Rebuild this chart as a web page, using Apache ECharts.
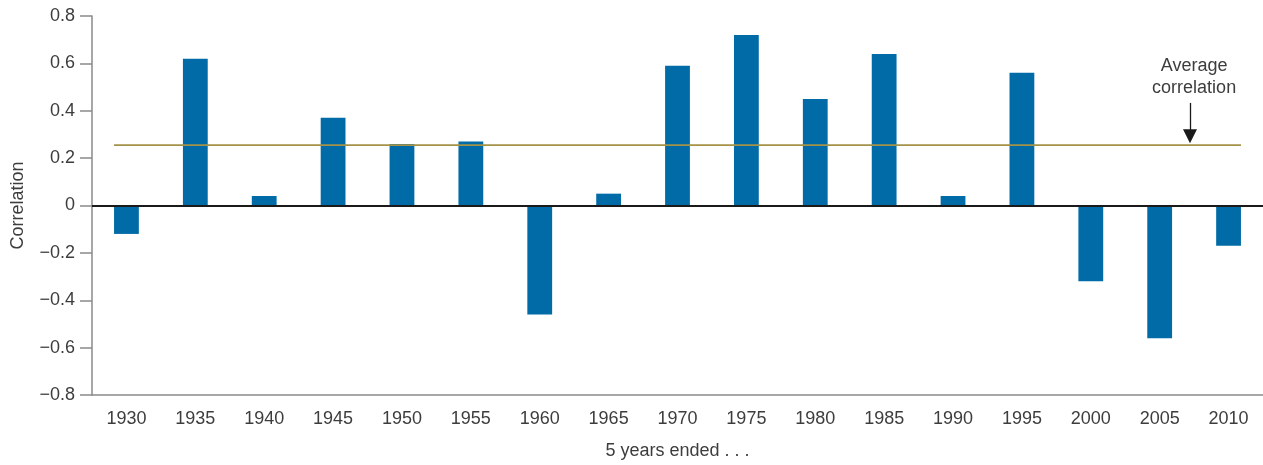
<!DOCTYPE html>
<html>
<head>
<meta charset="utf-8">
<script src="https://cdn.jsdelivr.net/npm/echarts@6/dist/echarts.min.js"></script>
<style>
html,body{margin:0;padding:0;background:#fff;}
#chart{width:1263px;height:465px;}
</style>
</head>
<body>
<div id="chart"></div>
<script>
const categories = ['1930','1935','1940','1945','1950','1955','1960','1965','1970','1975','1980','1985','1990','1995','2000','2005','2010'];
const correlation = [-0.12, 0.62, 0.04, 0.37, 0.26, 0.27, -0.46, 0.05, 0.59, 0.72, 0.45, 0.64, 0.04, 0.56, -0.32, -0.56, -0.17];
const averageCorrelation = 0.255;
const yTicks = { min: -0.8, max: 0.8, interval: 0.2 };

const FONT = 'Liberation Sans';
const FS = 18;
const TXT = '#3d3d3d';
const chart = echarts.init(document.getElementById('chart'), null, { renderer: 'canvas' });

const halfBar = 0.18;
const avgLine = [[-halfBar, averageCorrelation], [categories.length - 1 + halfBar, averageCorrelation]];

chart.setOption({
  animation: false,
  backgroundColor: '#ffffff',
  textStyle: { fontFamily: FONT },
  grid: { left: 92, right: -4, top: 16, bottom: 68, containLabel: false },
  xAxis: [
    {
      type: 'category',
      data: categories,
      position: 'bottom',
      axisLine: { show: true, onZero: false, lineStyle: { color: '#8a8a8a', width: 1.5 } },
      axisTick: { show: false },
      axisLabel: { color: TXT, fontSize: FS, fontFamily: FONT, margin: 15 },
      name: '5 years ended . . .',
      nameLocation: 'middle',
      nameGap: 47,
      nameTextStyle: { color: TXT, fontSize: FS, fontFamily: FONT },
      splitLine: { show: false }
    },
    {
      type: 'value',
      min: -0.5,
      max: categories.length - 0.5,
      show: false
    }
  ],
  yAxis: {
    type: 'value',
    min: yTicks.min,
    max: yTicks.max,
    interval: yTicks.interval,
    position: 'left',
    axisLine: { show: true, onZero: false, lineStyle: { color: '#8a8a8a', width: 1.5 } },
    axisTick: { show: true, length: 12, lineStyle: { color: '#8a8a8a', width: 1.5 } },
    axisLabel: {
      color: TXT, fontSize: FS, fontFamily: FONT, margin: 17,
      formatter: function (v) {
        if (Math.abs(v) < 1e-9) return '0';
        return (v < 0 ? '\u2212' : '') + Math.abs(v).toFixed(1);
      }
    },
    splitLine: { show: false },
    name: 'Correlation',
    nameLocation: 'middle',
    nameGap: 65,
    nameRotate: 90,
    nameTextStyle: { color: TXT, fontSize: FS, fontFamily: FONT }
  },
  series: [
    {
      type: 'bar',
      xAxisIndex: 0,
      data: correlation,
      barWidth: '36%',
      itemStyle: { color: '#006ba6' },
      z: 2,
      markLine: {
        silent: true,
        symbol: ['none', 'none'],
        label: { show: false },
        lineStyle: { color: '#1a1a1a', width: 1.8, type: 'solid' },
        data: [{ yAxis: 0 }],
        z: 5
      }
    },
    {
      type: 'line',
      xAxisIndex: 1,
      data: avgLine,
      symbol: 'none',
      lineStyle: { color: '#a39247', width: 1.6 },
      z: 3,
      markLine: {
        silent: true,
        symbol: ['none', 'triangle'],
        symbolSize: 14,
        label: { show: false },
        lineStyle: { color: '#1a1a1a', width: 1.3, type: 'solid' },
        itemStyle: { color: '#1a1a1a' },
        data: [[{ coord: [15.44, 0.433] }, { coord: [15.44, 0.292] }]]
      },
      markPoint: {
        silent: true,
        symbol: 'circle',
        symbolSize: 0,
        data: [{ coord: [15.5, 0.544], value: 0 }],
        label: {
          show: true,
          position: 'inside',
          formatter: 'Average\ncorrelation',
          color: TXT,
          fontSize: FS,
          fontFamily: FONT,
          lineHeight: 22,
          align: 'center',
          verticalAlign: 'middle'
        }
      }
    }
  ]
});
</script>
</body>
</html>
